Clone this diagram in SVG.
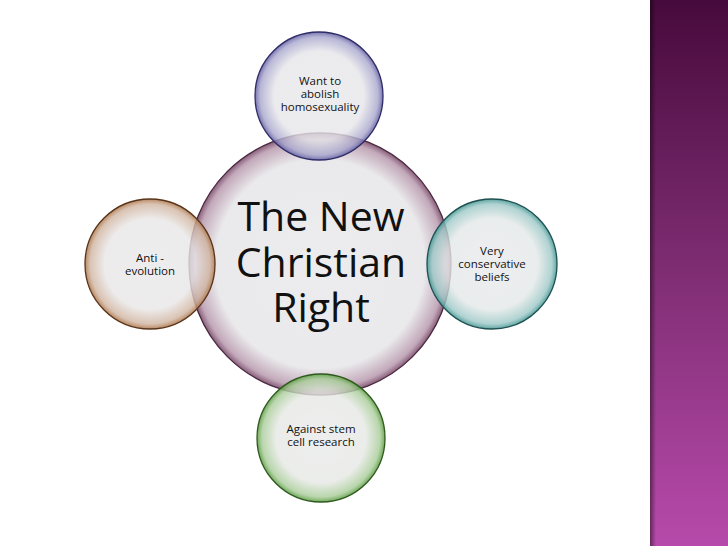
<svg xmlns="http://www.w3.org/2000/svg" width="728" height="546" viewBox="0 0 728 546">
<defs>
<linearGradient id="band" x1="0" y1="0" x2="0" y2="1">
<stop offset="0" stop-color="#470a3c"/>
<stop offset="0.45" stop-color="#7a2a6e"/>
<stop offset="1" stop-color="#b74aab"/>
</linearGradient>
<linearGradient id="bandEdge" x1="0" y1="0" x2="1" y2="0">
<stop offset="0" stop-color="#000" stop-opacity="0.45"/>
<stop offset="1" stop-color="#000" stop-opacity="0"/>
</linearGradient>
<radialGradient id="gC"><stop offset="0" stop-color="#e9e9eb" stop-opacity="0.85"/><stop offset="0.8" stop-color="#e6e5e8" stop-opacity="0.85"/><stop offset="0.95" stop-color="#b89aae" stop-opacity="0.85"/><stop offset="1" stop-color="#7a4a6a" stop-opacity="0.9"/></radialGradient>
<radialGradient id="gT"><stop offset="0" stop-color="#e9e9eb" stop-opacity="0.8"/><stop offset="0.7" stop-color="#e6e6ea" stop-opacity="0.8"/><stop offset="0.92" stop-color="#a8a6cc" stop-opacity="0.8"/><stop offset="1" stop-color="#6a66a8" stop-opacity="0.9"/></radialGradient>
<radialGradient id="gL"><stop offset="0" stop-color="#e9e9eb" stop-opacity="0.8"/><stop offset="0.7" stop-color="#e8e6e6" stop-opacity="0.8"/><stop offset="0.92" stop-color="#d0b4a0" stop-opacity="0.8"/><stop offset="1" stop-color="#b07c52" stop-opacity="0.9"/></radialGradient>
<radialGradient id="gR"><stop offset="0" stop-color="#e9e9eb" stop-opacity="0.8"/><stop offset="0.7" stop-color="#e4e8e8" stop-opacity="0.8"/><stop offset="0.92" stop-color="#9cc8c6" stop-opacity="0.8"/><stop offset="1" stop-color="#4a9a98" stop-opacity="0.9"/></radialGradient>
<radialGradient id="gB"><stop offset="0" stop-color="#e9e9eb" stop-opacity="0.8"/><stop offset="0.7" stop-color="#e6e8e4" stop-opacity="0.8"/><stop offset="0.92" stop-color="#a8cc98" stop-opacity="0.8"/><stop offset="1" stop-color="#62a04a" stop-opacity="0.9"/></radialGradient>
</defs>
<style>
.t{font-family:"Open Sans","DejaVu Sans",sans-serif;font-size:11.5px;fill:#111;text-anchor:middle}
.big{font-family:"Open Sans","DejaVu Sans",sans-serif;font-size:41px;fill:#111;text-anchor:middle}
circle{stroke-width:1.3}
</style>
<rect x="0" y="0" width="728" height="546" fill="#ffffff"/>
<rect x="650" y="0" width="78" height="546" fill="url(#band)"/>
<rect x="650" y="0" width="6" height="546" fill="url(#bandEdge)"/>
<g id="center">
<circle cx="320" cy="264" r="131" fill="url(#gC)" stroke="#4a2a40"/>
<text class="big" x="321" y="231">The New</text>
<text class="big" x="321" y="277">Christian</text>
<text class="big" x="321" y="322">Right</text>
</g>
<g id="top">
<circle cx="319" cy="96" r="64" fill="url(#gT)" stroke="#2e2c66"/>
<text class="t" x="320" y="85">Want to</text>
<text class="t" x="320" y="98">abolish</text>
<text class="t" x="320" y="111">homosexuality</text>
</g>
<g id="left">
<circle cx="150" cy="264" r="65" fill="url(#gL)" stroke="#5a3418"/>
<text class="t" x="150" y="262">Anti -</text>
<text class="t" x="150" y="275">evolution</text>
</g>
<g id="right">
<circle cx="492" cy="264" r="65" fill="url(#gR)" stroke="#1e5050"/>
<text class="t" x="492" y="255">Very</text>
<text class="t" x="492" y="268">conservative</text>
<text class="t" x="492" y="281">beliefs</text>
</g>
<g id="bottom">
<circle cx="321" cy="438" r="64" fill="url(#gB)" stroke="#2e5a1e"/>
<text class="t" x="321" y="433">Against stem</text>
<text class="t" x="321" y="446">cell research</text>
</g>
<g id="connectors"/>
</svg>
